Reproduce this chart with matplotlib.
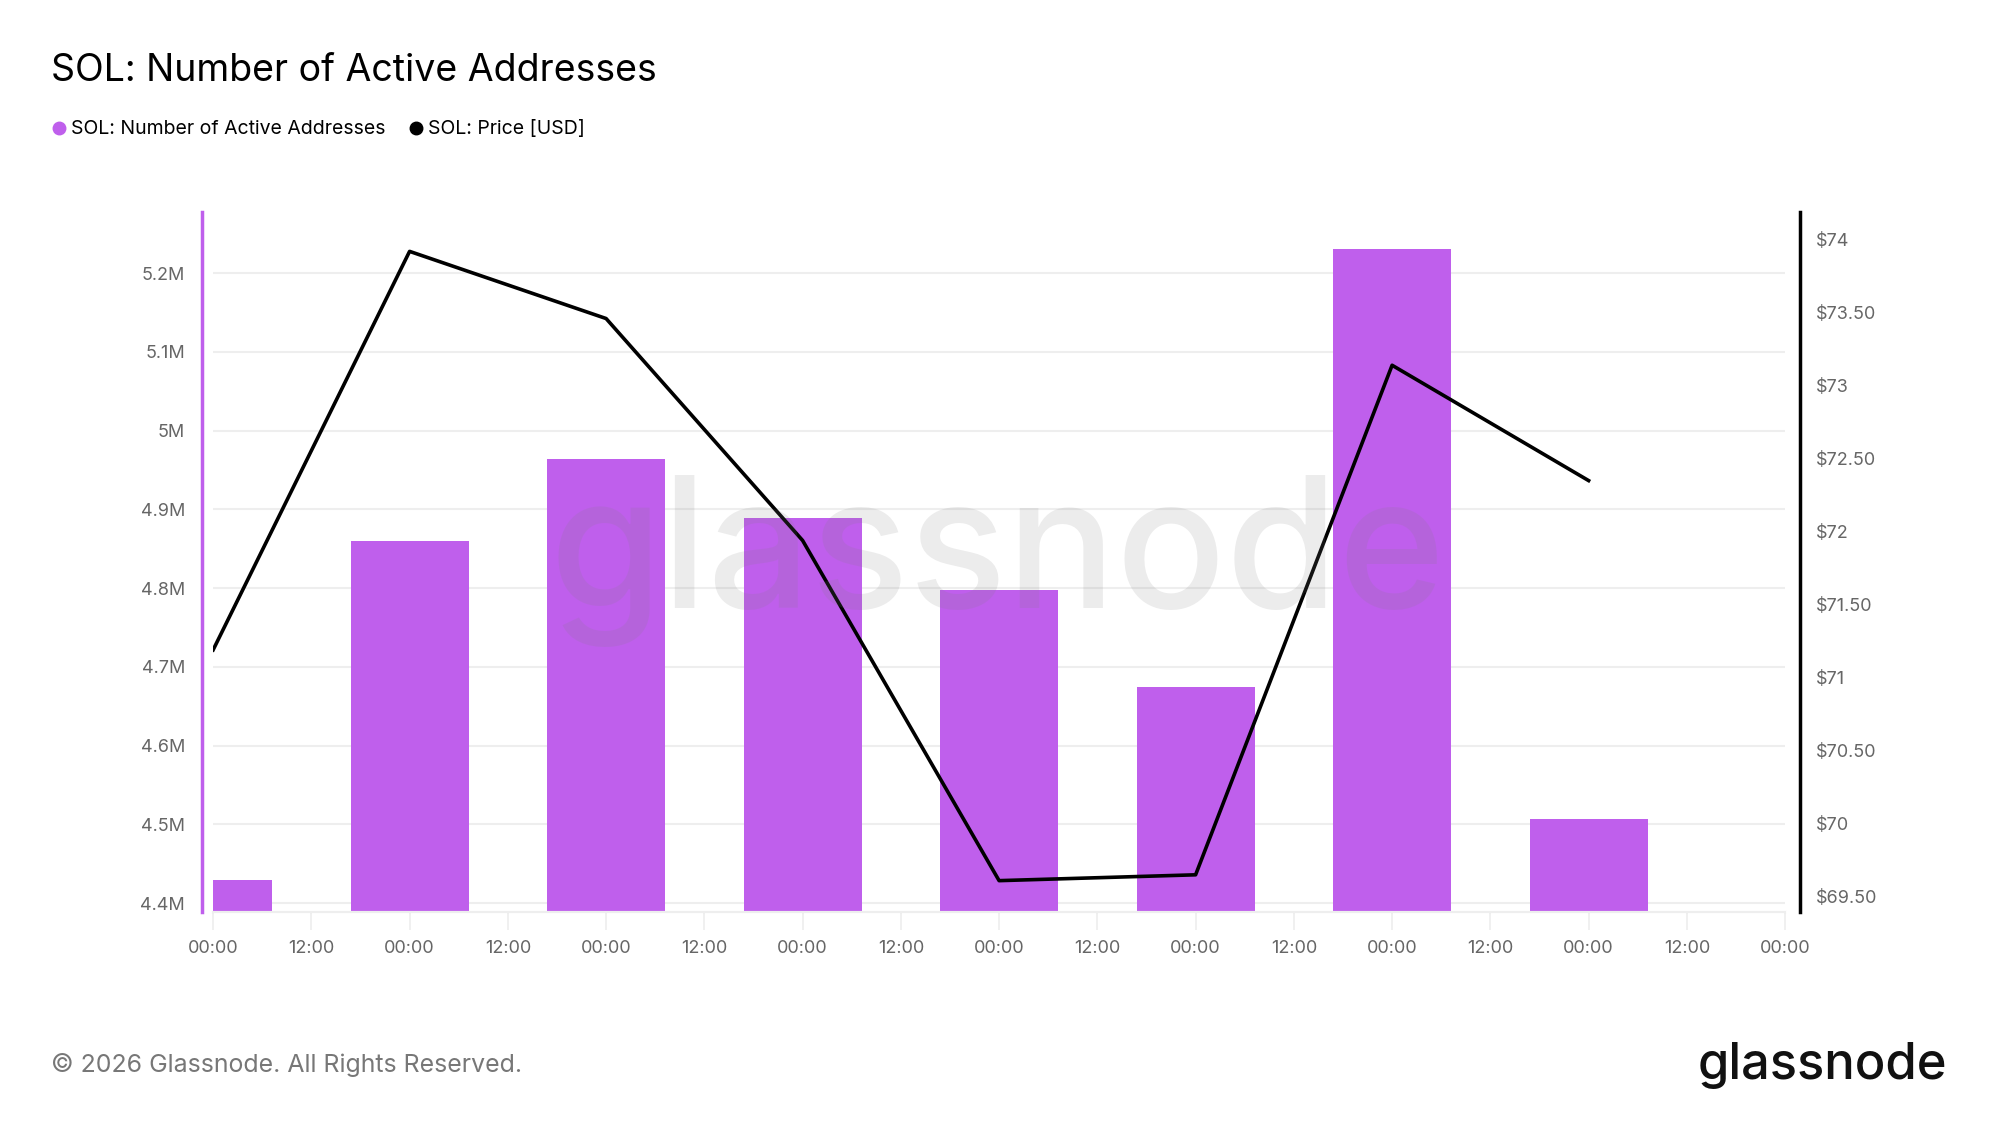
# SOL: Number of Active Addresses vs Price (glassnode style)

import numpy as np
import matplotlib.pyplot as plt
from matplotlib.lines import Line2D

plt.rcParams['font.family'] = ['Inter', 'DejaVu Sans']

# data: one point per day at 00:00
days = [0, 1, 2, 3, 4, 5, 6, 7]
active_addresses = [4.429e6, 4.860e6, 4.964e6, 4.889e6, 4.798e6, 4.674e6, 5.231e6, 4.507e6]
price_usd = [71.19, 73.92, 73.46, 71.94, 69.61, 69.65, 73.14, 72.35]

left_ticks = [4.4e6, 4.5e6, 4.6e6, 4.7e6, 4.8e6, 4.9e6, 5.0e6, 5.1e6, 5.2e6]
left_labels = ['4.4M', '4.5M', '4.6M', '4.7M', '4.8M', '4.9M', '5M', '5.1M', '5.2M']
right_ticks = [69.5, 70, 70.5, 71, 71.5, 72, 72.5, 73, 73.5, 74]
right_labels = ['$69.50', '$70', '$70.50', '$71', '$71.50', '$72', '$72.50', '$73', '$73.50', '$74']
x_ticks = np.arange(0, 8.01, 0.5)
x_labels = ['00:00' if t % 1 == 0 else '12:00' for t in x_ticks]

bar_color = '#BF5FEC'
tick_color = '#666666'
grid_color = '#EEEEEE'

fig = plt.figure(figsize=(19.99, 11.25), dpi=100)
ax = fig.add_axes([0.1066, 0.1893, 0.7864, 0.6223])
ax2 = ax.twinx()
ax.set_zorder(1)
ax2.set_zorder(2)
ax.patch.set_visible(False)

ax.bar(days, active_addresses, width=0.6, color=bar_color, zorder=2)
ax.set_xlim(0, 8)
ax.set_ylim(4.3887e6, 5.2777e6)
ax.set_yticks(left_ticks)
ax.set_yticklabels(left_labels)
ax.set_xticks(x_ticks)
ax.set_xticklabels(x_labels)
ax.grid(axis='y', color=grid_color, linewidth=1.5, zorder=0)

ax2.plot(days, price_usd, color='black', linewidth=2.6, zorder=3)
ax2.set_ylim(69.395, 74.19)
ax2.set_yticks(right_ticks)
ax2.set_yticklabels(right_labels)

for a in (ax, ax2):
    a.spines['top'].set_visible(False)
    a.spines['bottom'].set_color(grid_color)
    a.spines['bottom'].set_linewidth(1.5)

ax.spines['right'].set_visible(False)
ax.spines['left'].set_position(('outward', 8.3))
ax.spines['left'].set_color(bar_color)
ax.spines['left'].set_linewidth(2.5)
ax2.spines['left'].set_visible(False)
ax2.spines['right'].set_position(('outward', 11))
ax2.spines['right'].set_color('black')
ax2.spines['right'].set_linewidth(2.5)

ax.tick_params(axis='y', length=0, pad=12, labelsize=13, labelcolor=tick_color)
ax.tick_params(axis='x', length=13, width=1.2, color=grid_color, pad=7,
               labelsize=13, labelcolor=tick_color)
ax2.tick_params(axis='y', length=0, pad=11, labelsize=13, labelcolor=tick_color)

# watermark
fig.text(0.4988, 0.5013, 'glassnode', fontsize=131, color='#808080', alpha=0.15,
         ha='center', va='center', fontweight='medium', zorder=10)

# title and legend
fig.text(0.0255, 0.937, 'SOL: Number of Active Addresses', fontsize=27, color='black',
         ha='left', va='center')
handles = [Line2D([], [], marker='o', linestyle='none', color=bar_color, markersize=9),
           Line2D([], [], marker='o', linestyle='none', color='black', markersize=9)]
fig.legend(handles, ['SOL: Number of Active Addresses', 'SOL: Price [USD]'],
           loc='center left', bbox_to_anchor=(0.016, 0.885), ncol=2, frameon=False,
           fontsize=14, handletextpad=0.1, columnspacing=1.1, handlelength=1.0)

# footer
fig.text(0.0255, 0.053, '\u00a9 2026 Glassnode. All Rights Reserved.', fontsize=17.9,
         color='#777777', ha='left', va='center')
fig.text(0.974, 0.053, 'glassnode', fontsize=36.5, color='#111111', ha='right',
         va='center', fontweight='medium')

fig.savefig('out.png', dpi=100)
